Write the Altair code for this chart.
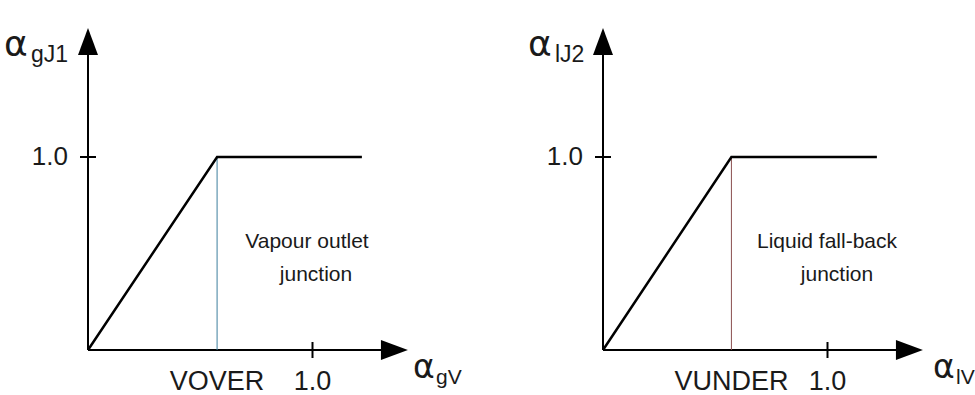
import altair as alt
import pandas as pd

# Junction void-fraction characteristics (ramp up to the breakpoint, then flat at 1.0)
VOVER = 0.575
VUNDER = 0.572
CURVE_END = 1.22          # where the flat part stops
X_AXIS_END = 1.425        # tip of the abscissa arrow
Y_AXIS_END = 1.668        # tip of the ordinate arrow
TICK_VALUE = 1.0

left_curve_x = [0.0, VOVER, CURVE_END]
right_curve_x = [0.0, VUNDER, CURVE_END]
curve_y = [0.0, 1.0, 1.0]

left_symbols = ("α", "gJ1", "α", "gV")
right_symbols = ("α", "lJ2", "α", "lV")
left_note = ["Vapour outlet", "junction"]
right_note = ["Liquid fall-back", "junction"]
tick_label = "1.0"

# drawing geometry (pixels per unit, origin inside each panel)
PX_X, PX_Y = 224.5, 193.0
ORIGIN_X, ORIGIN_Y = 88.0, 350.0
H = 395
FONT = "Liberation Sans"
GREEK_FONT = "DejaVu Sans"
INK = "#1a1a1a"


def dx(px):
    return (px - ORIGIN_X) / PX_X


def dy(py):
    return (ORIGIN_Y - py) / PX_Y


def panel(curve_x, brk, brk_name, guide_color, symbols, sym_px, note, note_px, width):
    xs = alt.Scale(domain=[dx(0), dx(width)], nice=False, zero=False)
    ys = alt.Scale(domain=[dy(H), dy(0)], nice=False, zero=False)
    X = lambda f: alt.X(f, type="quantitative", scale=xs, axis=None)
    Y = lambda f: alt.Y(f, type="quantitative", scale=ys, axis=None)

    tick_half_x = 8 / PX_X
    tick_half_y = 8 / PX_Y
    segs = pd.DataFrame({
        "x": [0.0, 0.0, -tick_half_x, TICK_VALUE],
        "y": [0.0, 0.0, TICK_VALUE, -tick_half_y],
        "x2": [X_AXIS_END - 0.05, 0.0, tick_half_x, TICK_VALUE],
        "y2": [0.0, Y_AXIS_END - 0.05, TICK_VALUE, tick_half_y],
    })
    axes = alt.Chart(segs).mark_rule(color="black", strokeWidth=2).encode(
        x=X("x"), y=Y("y"), x2="x2:Q", y2="y2:Q")

    guide = alt.Chart(pd.DataFrame({"x": [brk], "y": [0.0], "y2": [1.0]})).mark_rule(
        color=guide_color, strokeWidth=1).encode(x=X("x"), y=Y("y"), y2="y2:Q")

    curve_df = pd.DataFrame({"x": curve_x, "y": curve_y, "o": range(len(curve_x))})
    curve = alt.Chart(curve_df).mark_line(
        color="black", strokeWidth=2.5, strokeJoin="miter").encode(
        x=X("x"), y=Y("y"), order="o:Q")

    up = alt.Chart(pd.DataFrame({"x": [0.0], "y": [Y_AXIS_END]})).mark_point(
        shape="M0,0L0.74,2L-0.74,2Z", size=729, filled=True, color="black",
        opacity=1, strokeWidth=0).encode(x=X("x"), y=Y("y"))
    right = alt.Chart(pd.DataFrame({"x": [X_AXIS_END], "y": [0.0]})).mark_point(
        shape="M0,0L-2,-0.74L-2,0.74Z", size=729, filled=True, color="black",
        opacity=1, strokeWidth=0).encode(x=X("x"), y=Y("y"))

    def texts(rows, size, align="left", font=FONT):
        df = pd.DataFrame(rows, columns=["t", "x", "y"])
        return alt.Chart(df).mark_text(
            font=font, fontSize=size, align=align, baseline="alphabetic",
            color=INK).encode(x=X("x"), y=Y("y"), text="t:N")

    (ax, ay), (sx, sy), (bx, by), (cx, cy) = sym_px
    greek_top = texts([(symbols[0], dx(ax), dy(ay))], 36, font=GREEK_FONT)
    sub_top = texts([(symbols[1], dx(sx), dy(sy))], 23)
    greek_bot = texts([(symbols[2], dx(bx), dy(by))], 33, font=GREEK_FONT)
    sub_bot = texts([(symbols[3], dx(cx), dy(cy))], 21)
    ytick = texts([(tick_label, dx(68), dy(165))], 26, "right")
    xlabels = texts([(brk_name, brk, dy(390)), (tick_label, TICK_VALUE, dy(390))], 27, "center")
    notes = texts([(note[0], dx(note_px[0]), dy(248)),
                   (note[1], dx(note_px[1]), dy(281))], 21, "center")

    return alt.layer(axes, guide, curve, up, right, greek_top, sub_top, greek_bot,
                     sub_bot, ytick, xlabels, notes).properties(width=width, height=H)


left = panel(left_curve_x, VOVER, "VOVER", "#3d7f9e", left_symbols,
             ((4, 56), (31, 62), (413, 378), (436, 384)),
             left_note, (307, 316), 515)
right = panel(right_curve_x, VUNDER, "VUNDER", "#8a4f4f", right_symbols,
              ((13, 56), (40, 62), (418, 378), (441, 384)),
              right_note, (312, 322), 460)

chart = alt.hconcat(left, right, spacing=0).properties(
    padding=0, background="white"
).configure_view(stroke=None)

chart.save("out.html", embed_options={"renderer": "svg", "actions": False})
